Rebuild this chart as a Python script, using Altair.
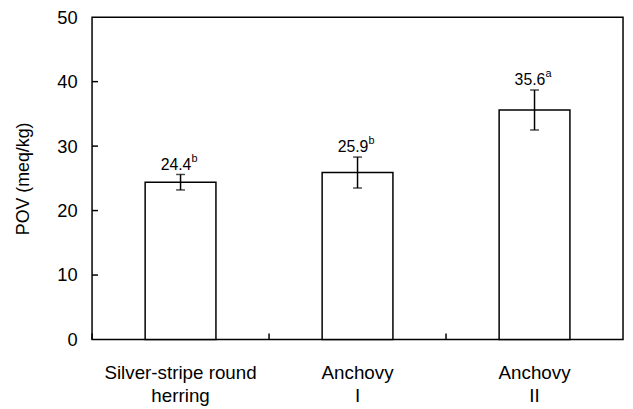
import altair as alt
import pandas as pd

categories = ["Silver-stripe round|herring", "Anchovy|I", "Anchovy|II"]
values = [24.4, 25.9, 35.6]
errors = [1.2, 2.4, 3.1]
value_labels = ["24.4", "25.9", "35.6"]
letters = ["b", "b", "a"]
y_tick_values = [0, 10, 20, 30, 40, 50]
inner_ticks = [10, 20, 30, 40]

df = pd.DataFrame({"cat": categories, "val": values, "err": errors,
                   "lab": value_labels, "sup": letters})
df["lo"] = df["val"] - df["err"]
df["hi"] = df["val"] + df["err"]
tick_df = pd.DataFrame({"val": inner_ticks})

W, H = 537, 326
FONT = "Liberation Sans"

xs = alt.Scale(domain=categories, paddingInner=0, paddingOuter=0)
ys = alt.Scale(domain=[0, 50], nice=False)

x_main = alt.X("cat:N", sort=categories, scale=xs,
               axis=alt.Axis(title=None, labelAngle=0, ticks=False, domain=False,
                             labelExpr="split(datum.label, '|')",
                             labelFontSize=19, labelColor="black", labelFont=FONT,
                             labelPadding=24, labelLineHeight=24))
y_main = alt.Y("val:Q", scale=ys,
               axis=alt.Axis(title="POV (meq/kg)", values=y_tick_values, ticks=False,
                             grid=False, domain=False, labelFontSize=18.5, labelColor="black",
                             labelFont=FONT, labelPadding=15, titleFont=FONT,
                             titleFontSize=18, titleFontWeight="normal", titleColor="black",
                             titlePadding=25))

bars = alt.Chart(df).mark_bar(width=alt.RelativeBandSize(0.4), fill="white",
                              stroke="black", strokeWidth=1.5).encode(x=x_main, y=y_main)

xe = alt.X("cat:N", sort=categories, scale=xs)
err_rule = alt.Chart(df).mark_rule(color="black", strokeWidth=1.5).encode(
    x=xe, y=alt.Y("lo:Q", scale=ys), y2="hi:Q")
cap_hi = alt.Chart(df).mark_tick(color="black", thickness=1.5, size=9).encode(
    x=xe, y=alt.Y("hi:Q", scale=ys))
cap_lo = alt.Chart(df).mark_tick(color="black", thickness=1.5, size=9).encode(
    x=xe, y=alt.Y("lo:Q", scale=ys))

txt = alt.Chart(df).mark_text(align="right", baseline="alphabetic", dx=11, dy=-5,
                              fontSize=16, font=FONT, color="black").encode(
    x=xe, y=alt.Y("hi:Q", scale=ys), text="lab:N")
sup = alt.Chart(df).mark_text(align="left", baseline="alphabetic", dx=11, dy=-13,
                              fontSize=11, font=FONT, color="black").encode(
    x=xe, y=alt.Y("hi:Q", scale=ys), text="sup:N")

ytick = alt.Chart(tick_df).mark_rule(color="black", strokeWidth=1.5).encode(
    y=alt.Y("val:Q", scale=ys), x=alt.value(0), x2=alt.value(6))
xtick = alt.Chart(df).mark_rule(color="black", strokeWidth=1.5).encode(
    x=alt.X("cat:N", sort=categories, scale=xs, bandPosition=0),
    y=alt.value(H - 6), y2=alt.value(H))

chart = alt.layer(bars, err_rule, cap_hi, cap_lo, txt, sup, ytick, xtick).properties(
    width=W, height=H,
    background="white",
    autosize=alt.AutoSizeParams(type="none"),
    padding={"left": 85, "top": 7, "right": 2, "bottom": 67},
).configure_view(stroke="black", strokeWidth=1.5)

chart.save("out.html", embed_options={"renderer": "svg", "actions": False})
